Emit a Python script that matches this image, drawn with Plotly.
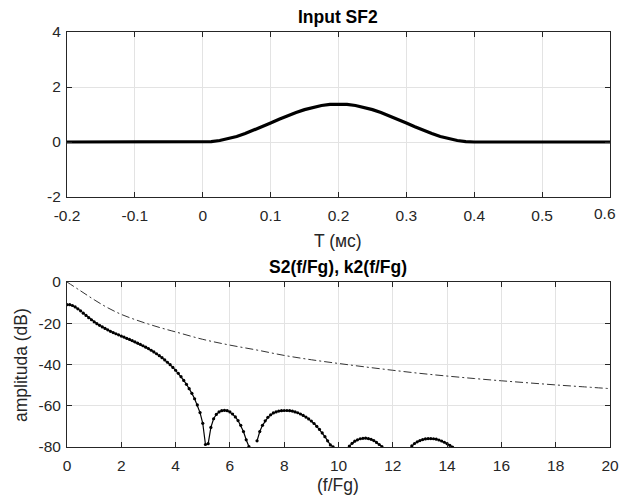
import plotly.graph_objects as go

# ---------- data: top panel (Input SF2) ----------
t_ms = [-0.2, -0.15, -0.1, -0.05, 0.0, 0.0125, 0.025, 0.0375, 0.05, 0.0625, 0.075, 0.0875, 0.1,
        0.1125, 0.125, 0.1375, 0.15, 0.1625, 0.175, 0.1875, 0.2,
        0.2125, 0.225, 0.2375, 0.25, 0.2625, 0.275, 0.2875, 0.3,
        0.3125, 0.325, 0.3375, 0.35, 0.3625, 0.375, 0.3875, 0.4, 0.45, 0.5, 0.55, 0.6]
sf2 = [0, 0, 0, 0, 0.0, 0.013, 0.053, 0.117, 0.202, 0.306, 0.426, 0.555, 0.69,
       0.825, 0.954, 1.073, 1.178, 1.264, 1.327, 1.367, 1.38,
       1.367, 1.327, 1.264, 1.178, 1.073, 0.954, 0.825, 0.69,
       0.555, 0.426, 0.306, 0.202, 0.117, 0.053, 0.013, 0.0, 0, 0, 0, 0]

# ---------- data: bottom panel ----------
f_s2 = [round(0.1 * i, 1) for i in range(0, 143)]
s2_db = [
    -11.0, -11.0, -11.4, -12.1, -13.0, -14.0, -15.1, -16.2, -17.3, -18.3,   # 0.0-0.9
    -19.3, -20.2, -21.0, -21.8, -22.5, -23.2, -23.9, -24.5, -25.1, -25.6,   # 1.0-1.9
    -26.2, -26.7, -27.3, -27.8, -28.4, -29.0, -29.6, -30.2, -30.9, -31.6,   # 2.0-2.9
    -32.3, -33.1, -33.9, -34.8, -35.7, -36.7, -37.8, -38.9, -40.1, -41.4,   # 3.0-3.9
    -42.8, -44.3, -45.9, -47.7, -49.6, -51.7, -54.0, -56.6, -59.6, -63.3,   # 4.0-4.9
    -68.5, -78.8, -78.4, -70.5, -66.3, -64.2, -63.0, -62.4, -62.2, -62.4,   # 5.0-5.9
    -63.0, -64.0, -65.4, -67.2, -69.5, -72.5, -76.5, -79.8, None, None,     # 6.0-6.9
    -77.0, -72.5, -69.5, -67.3, -65.6, -64.4, -63.5, -63.0, -62.6, -62.4,   # 7.0-7.9
    -62.3, -62.3, -62.4, -62.6, -63.0, -63.4, -64.0, -64.7, -65.5, -66.4,   # 8.0-8.9
    -67.4, -68.6, -70.0, -71.5, -73.2, -75.0, -77.0, -79.0, -79.9, None,    # 9.0-9.9
    None, None, None, None, -79.6, -78.2, -77.2, -76.5, -76.0, -75.8,       # 10.0-10.9
    -75.7, -75.9, -76.3, -76.9, -77.8, -78.8, -79.8, None, None, None,      # 11.0-11.9
    None, None, None, None, None, None, None, -79.5, -78.3, -77.5,          # 12.0-12.9
    -76.9, -76.4, -76.1, -75.9, -75.9, -76.0, -76.2, -76.6, -77.1, -77.7,   # 13.0-13.9
    -78.4, -79.2, -80.0,                                                    # 14.0-14.2
]

f_k2 = [0, 0.5, 1, 1.5, 2, 2.5, 3, 3.5, 4, 5, 6, 7, 8, 9, 10, 11, 12, 13, 14, 15, 16, 17, 18, 19, 20]
k2_db = [0, -4.3, -8.6, -12.5, -15.7, -18.2, -20.4, -22.4, -24.2, -27.8, -30.6, -33.0, -35.6,
         -37.7, -39.5, -41.2, -42.8, -44.3, -45.6, -46.8, -47.9, -48.9, -49.9, -50.8, -51.7]

# tick labels
x1_ticks = [-0.2, -0.1, 0, 0.1, 0.2, 0.3, 0.4, 0.5, 0.6]
x1_text = ["-0.2", "-0.1", "0", "0.1", "0.2", "0.3", "0.4", "0.5", "0.6"]
y1_ticks = [-2, 0, 2, 4]
y1_text = ["-2", "0", "2", "4"]
x2_ticks = [0, 2, 4, 6, 8, 10, 12, 14, 16, 18, 20]
x2_text = [str(v) for v in x2_ticks]
y2_ticks = [-80, -60, -40, -20, 0]
y2_text = ["-80", "-60", "-40", "-20", "0"]

FONT = "Liberation Sans, Arial, sans-serif"
AX = "#262626"
GRID = "#e3e3e3"
TICK = 15.5
LAB = 17.5

fig = go.Figure()
fig.add_trace(go.Scatter(x=t_ms, y=sf2, mode="lines", line=dict(color="black", width=3.2),
                         xaxis="x", yaxis="y", showlegend=False))
fig.add_trace(go.Scatter(x=f_k2, y=k2_db, mode="lines",
                         line=dict(color="#333333", width=1, dash="8px,3px,2px,3px", shape="spline"),
                         xaxis="x2", yaxis="y2", showlegend=False))
fig.add_trace(go.Scatter(x=f_s2, y=s2_db, mode="lines+markers", connectgaps=False,
                         line=dict(color="black", width=1.2),
                         marker=dict(color="black", size=3.2),
                         xaxis="x2", yaxis="y2", showlegend=False))

axis_common = dict(showline=True, linecolor=AX, linewidth=1, mirror="ticks", automargin=False,
                   ticks="inside", ticklen=5, tickcolor=AX, tickwidth=1,
                   showgrid=True, gridcolor=GRID, gridwidth=1, zeroline=False,
                   tickfont=dict(family=FONT, size=TICK, color=AX))

xd = [67 / 619, 610 / 619]
# last top tick label drawn as an annotation, kept just inside the page edge
x1_axis_text = x1_text[:-1] + [""]
fig.update_layout(
    width=619, height=498,
    margin=dict(l=0, r=0, t=0, b=0, autoexpand=False),
    paper_bgcolor="white", plot_bgcolor="white",
    xaxis=dict(domain=xd, range=[-0.2, 0.6], tickvals=x1_ticks, ticktext=x1_axis_text,
               anchor="y", ticklabelstandoff=4, **axis_common),
    yaxis=dict(domain=[1 - 197 / 498, 1 - 32 / 498], range=[-2, 4], tickvals=y1_ticks,
               ticktext=y1_text, anchor="x", ticklabelstandoff=2, **axis_common),
    xaxis2=dict(domain=xd, range=[0, 20], tickvals=x2_ticks, ticktext=x2_text,
                anchor="y2", ticklabelstandoff=4, **axis_common),
    yaxis2=dict(domain=[1 - 447 / 498, 1 - 282 / 498], range=[-80, 0], tickvals=y2_ticks,
                ticktext=y2_text, anchor="x2", ticklabelstandoff=2, **axis_common),
)

ann = []
def txt(x, y, s, size=14, bold=False, angle=0, color=None):
    ann.append(dict(x=x / 619, y=1 - y / 498, xref="paper", yref="paper", text=(f"<b>{s}</b>" if bold else s),
                    showarrow=False, textangle=angle, xanchor="center", yanchor="middle",
                    font=dict(family=FONT, size=size, color=color or ("black" if bold else AX))))

txt(338, 17, "Input SF2", LAB, True)
txt(338, 241, "T (мс)", LAB)
txt(338, 267, "S2(f/Fg), k2(f/Fg)", LAB, True)
txt(338, 485, "(f/Fg)", LAB)
txt(21, 365, "amplituda (dB)", LAB, angle=-90)
ann.append(dict(x=1.0, y=-2, xref="paper", yref="y", text=x1_text[-1], showarrow=False,
                xanchor="right", yanchor="top", yshift=-6, xshift=-1,
                font=dict(family=FONT, size=TICK, color=AX)))
fig.update_layout(annotations=ann)

fig.write_html("out.html")
